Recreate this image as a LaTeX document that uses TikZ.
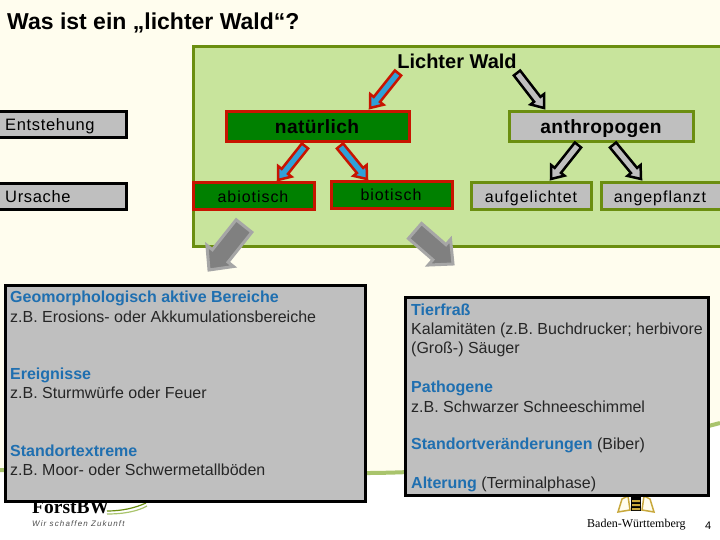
\documentclass[tikz,border=0pt]{standalone}
\usepackage{fontspec}
\setmainfont{Liberation Sans}
\newfontfamily\serifbw{Liberation Serif}
\usetikzlibrary{calc}
\definecolor{cream}{HTML}{FFFDEE}
\definecolor{panel}{HTML}{C8E49C}
\definecolor{olive}{HTML}{6B8E10}
\definecolor{boxgray}{HTML}{BFBFBF}
\definecolor{redline}{HTML}{C81400}
\definecolor{natgreen}{HTML}{008000}
\definecolor{arrowblue}{HTML}{2FA0D8}
\definecolor{headblue}{HTML}{1F6FB0}
\definecolor{swoosh}{HTML}{A9C46C}
\definecolor{armsgold}{HTML}{C8A83C}
\tikzset{
  x=1pt,y=-1pt,
  lane/.style={draw=black,line width=3pt,fill=boxgray},
  natbox/.style={draw=redline,line width=3pt,fill=natgreen},
  antbox/.style={draw=olive,line width=3pt,fill=boxgray},
  lbl/.style={inner sep=0pt,anchor=base west,text=black!85,font=\fontsize{16}{18}\selectfont},
  capn/.style={inner sep=0pt,anchor=base,font=\fontsize{16}{18}\selectfont\addfontfeature{LetterSpace=6}},
  capb/.style={inner sep=0pt,anchor=base,font=\fontsize{19.2}{21}\selectfont\bfseries\addfontfeature{LetterSpace=2}},
  hd/.style={lbl,text=headblue,font=\fontsize{16}{18}\selectfont\bfseries},
  redarrow/.style={draw=redline,fill=arrowblue,line width=2.5pt,miter limit=6},
  blackarrow/.style={draw=black,fill=boxgray,line width=2.5pt,miter limit=6},
  grayarrow/.style={draw=black!35,fill=black!50,line width=3pt,miter limit=6},
}
% tail, tip, style, half shaft, half head, head length
\newcommand{\blockarrow}[6]{%
  \coordinate (hb) at ($(#2)!#6pt!(#1)$);
  \draw[#3] ($(#1)!#4pt!90:(#2)$) -- ($(hb)!#4pt!90:(#2)$) -- ($(hb)!#5pt!90:(#2)$) -- (#2)
    -- ($(hb)!#5pt!-90:(#2)$) -- ($(hb)!#4pt!-90:(#2)$) -- ($(#1)!#4pt!-90:(#2)$) -- cycle;
}
\begin{document}
\begin{tikzpicture}
\useasboundingbox (0,0) rectangle (720,540);
\fill[white] (0,0) rectangle (720,540);
\fill[cream] (0,0) -- (720,0) -- (720,423) .. controls (600,455) and (480,472) .. (370,473) .. controls (250,474) and (100,470) .. (0,470) -- cycle;
\draw[swoosh,line width=4pt] (0,470) .. controls (100,470) and (250,474) .. (370,473) .. controls (480,472) and (600,455) .. (720,423);

% logos
\node[inner sep=0pt,anchor=base west,font=\fontsize{19.5}{22}\selectfont\bfseries\serifbw] (forst) at (32,513) {ForstBW};
\draw[swoosh,line width=1.2pt] (107,514) .. controls (125,514) and (138,511) .. (147,506);
\draw[olive,line width=1.2pt] (107,511) .. controls (122,511) and (135,508) .. (146,503);
\node[inner sep=0pt,anchor=base west,text=black!70,font=\fontsize{8}{9}\selectfont\itshape\addfontfeature{LetterSpace=14}] (wir) at (32,526) {Wir schaffen Zukunft};
\node[inner sep=0pt,anchor=base west,font=\fontsize{12}{14}\selectfont\serifbw] (bw) at (587,527) {Baden-Württemberg};
\draw[armsgold,line width=1.5pt,fill=cream] (618,512) -- (622,499) -- (628,496) -- (630,510) -- cycle;
\draw[armsgold,line width=1.5pt,fill=cream] (654,512) -- (650,499) -- (644,496) -- (642,510) -- cycle;
\fill[black] (631,496) rectangle (641,511);
\fill[armsgold] (632,500) rectangle (640,502) (632,504) rectangle (640,506) (632,508) rectangle (640,510);
\node[inner sep=0pt,anchor=base west,font=\fontsize{11}{12}\selectfont] (page) at (705,529) {4};

% title
\node[inner sep=0pt,anchor=base west,font=\fontsize{23}{26}\selectfont\bfseries] (title) at (7,30) {Was ist ein „lichter Wald“?};

% panel
\draw[olive,line width=3pt,fill=panel] (193,47) rectangle (722,246);
\node[inner sep=0pt,anchor=base,font=\fontsize{20}{22}\selectfont\bfseries] (wald) at (457,69) {Lichter Wald};

% row labels
\path[lane] (-3,112) rectangle (126,138);
\node[lbl,text=black,font=\fontsize{16.5}{18}\selectfont\addfontfeature{LetterSpace=4}] (ent) at (5,131) {Entstehung};
\path[lane] (-3,184) rectangle (126,210);
\node[lbl,text=black,font=\fontsize{16.5}{18}\selectfont\addfontfeature{LetterSpace=4}] (urs) at (5,203) {Ursache};

% boxes
\path[natbox] (226,112) rectangle (409,142);
\node[capb] (nat) at (317,134) {natürlich};
\path[antbox] (509,112) rectangle (693,142);
\node[capb] (ant) at (601,134) {anthropogen};
\path[natbox] (193,183) rectangle (314,210);
\node[capn] (abio) at (253,203) {abiotisch};
\path[natbox] (331,182) rectangle (452,209);
\node[capn] (bio) at (391,201) {biotisch};
\path[antbox] (471,183) rectangle (591,210);
\node[capn] (auf) at (531,203) {aufgelichtet};
\path[antbox] (601,183) rectangle (722,210);
\node[capn] (ang) at (660,203) {angepflanzt};

% arrows
\coordinate (a1) at (398,73); \coordinate (a2) at (370,108);
\blockarrow{a1}{a2}{redarrow}{4}{8.5}{11}
\coordinate (b1) at (517,73); \coordinate (b2) at (544,108);
\blockarrow{b1}{b2}{blackarrow}{4}{8.5}{11}
\coordinate (c1) at (305,146); \coordinate (c2) at (278,180);
\blockarrow{c1}{c2}{redarrow}{4}{8.5}{11}
\coordinate (d1) at (340,146); \coordinate (d2) at (367,179);
\blockarrow{d1}{d2}{redarrow}{4}{8.5}{11}
\coordinate (e1) at (578,145); \coordinate (e2) at (551,179);
\blockarrow{e1}{e2}{blackarrow}{4}{8.5}{11}
\coordinate (f1) at (613,145); \coordinate (f2) at (641,179);
\blockarrow{f1}{f2}{blackarrow}{4}{8.5}{11}
\coordinate (g1) at (244,226); \coordinate (g2) at (209,270);
\blockarrow{g1}{g2}{grayarrow}{10}{17}{18}
\coordinate (h1) at (415,231); \coordinate (h2) at (453,264);
\blockarrow{h1}{h2}{grayarrow}{10}{17}{18}

% left text panel
\path[lane] (5,285) rectangle (365,501);
\node[hd] (l1) at (10,302) {Geomorphologisch aktive Bereiche};
\node[lbl] (l2) at (10,322) {z.B. Erosions- oder Akkumulationsbereiche};
\node[hd] (l3) at (10,379) {Ereignisse};
\node[lbl] (l4) at (10,398) {z.B. Sturmwürfe oder Feuer};
\node[hd] (l5) at (10,456) {Standortextreme};
\node[lbl] (l6) at (10,475) {z.B. Moor- oder Schwermetallböden};

% right text panel
\path[lane] (405,297) rectangle (708,495);
\node[hd] (r1) at (411,315) {Tierfraß};
\node[lbl] (r2) at (411,334) {Kalamitäten (z.B. Buchdrucker; herbivore};
\node[lbl] (r3) at (411,353) {(Groß-) Säuger};
\node[hd] (r4) at (411,392) {Pathogene};
\node[lbl] (r5) at (411,412) {z.B. Schwarzer Schneeschimmel};
\node[lbl] (r6) at (411,449) {\textcolor{headblue}{\bfseries Standortveränderungen} (Biber)};
\node[lbl] (r7) at (411,488) {\textcolor{headblue}{\bfseries Alterung} (Terminalphase)};
\end{tikzpicture}
\end{document}
